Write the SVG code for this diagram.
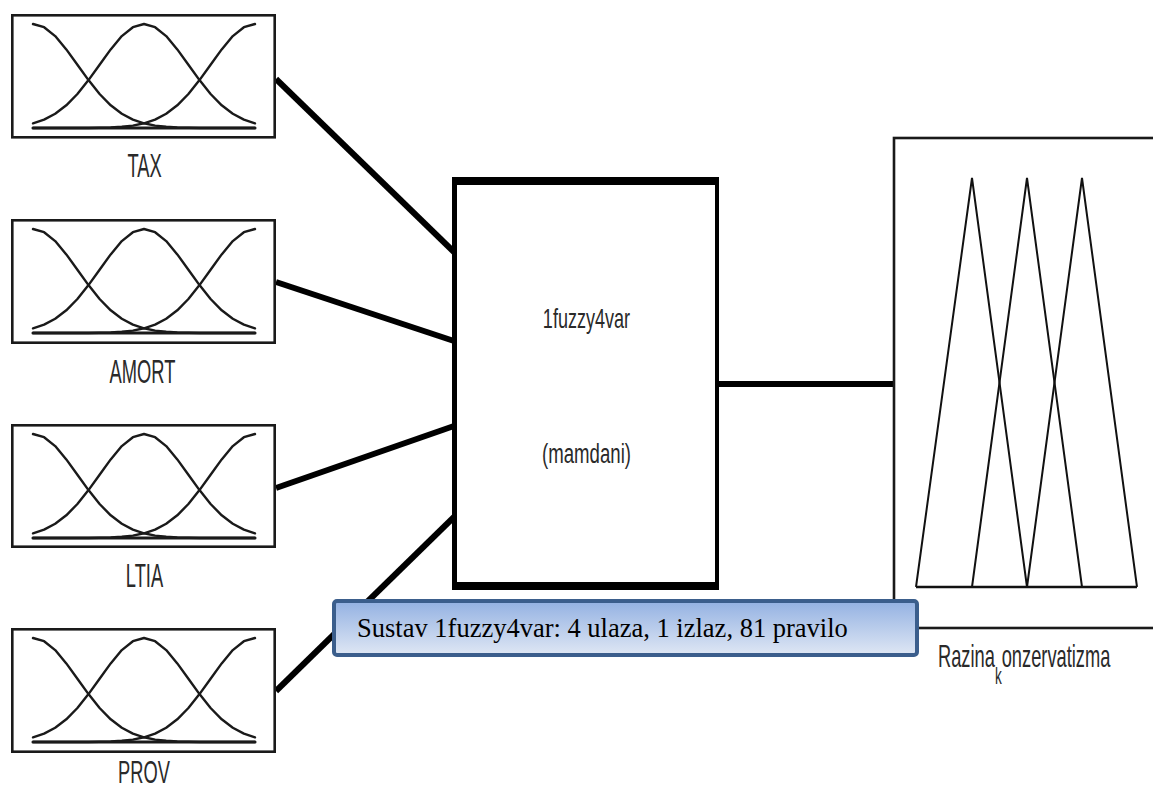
<svg xmlns="http://www.w3.org/2000/svg" xmlns:xlink="http://www.w3.org/1999/xlink" width="1153" height="791" viewBox="0 0 1153 791">
  <style>
    .box { fill: #ffffff; stroke: #1a1a1a; stroke-width: 2.6; }
    .mf { fill: none; stroke: #1a1a1a; stroke-width: 2.4; stroke-linejoin: round; stroke-linecap: round; }
    .base { fill: none; stroke: #1a1a1a; stroke-width: 3; stroke-linecap: round; }
    .lbl { font-family: "Liberation Sans", Arial, sans-serif; font-size: 33px; fill: #2a2a2a; text-anchor: middle; }
    .ctr { font-family: "Liberation Sans", Arial, sans-serif; font-size: 28px; fill: #2a2a2a; text-anchor: middle; }
    .out { font-family: "Liberation Sans", Arial, sans-serif; font-size: 31px; fill: #2a2a2a; }
    .conn { stroke: #000000; stroke-width: 6; fill: none; }
    .tri { fill: none; stroke: #111111; stroke-width: 2; stroke-linejoin: miter; }
    .cap { font-family: "Liberation Serif", "Times New Roman", serif; font-size: 26.5px; fill: #000000; }
  </style>
  <defs>
    <g id="mfset">
      <polyline class="mf" points="22,10 33.1,13.2 44.2,22.1 55.3,35.4 66.4,50.7 77.5,66.1 88.6,80 99.7,91.3 110.8,99.7 121.9,105.6 133,109.3 144.1,111.6 155.2,112.8 166.3,113.5 177.4,113.8 188.5,114 244,114"/>
      <polyline class="mf" points="22,109.3 33.1,105.6 44.2,99.7 55.3,91.3 66.4,80 77.5,66.1 88.6,50.7 99.7,35.4 110.8,22.1 121.9,13.2 133,10 144.1,13.2 155.2,22.1 166.3,35.4 177.4,50.7 188.5,66.1 199.6,80 210.7,91.3 221.8,99.7 232.9,105.6 244,109.3"/>
      <polyline class="mf" points="244,10 232.9,13.2 221.8,22.1 210.7,35.4 199.6,50.7 188.5,66.1 177.4,80 166.3,91.3 155.2,99.7 144.1,105.6 133,109.3 121.9,111.6 110.8,112.8 99.7,113.5 88.6,113.8 77.5,114 22,114"/>
      <line class="base" x1="22" y1="114" x2="244" y2="114"/>
    </g>
    <linearGradient id="capgrad" x1="0" y1="0" x2="0" y2="1">
      <stop offset="0" stop-color="#93b1e2"/>
      <stop offset="1" stop-color="#dfe7f4"/>
    </linearGradient>
  </defs>

  <g id="connectors">
    <line class="conn" x1="276" y1="79" x2="454" y2="252"/>
    <line class="conn" x1="276" y1="282" x2="454" y2="341"/>
    <line class="conn" x1="276" y1="488" x2="454" y2="426"/>
    <line class="conn" x1="276" y1="691" x2="454" y2="517"/>
    <line class="conn" x1="719" y1="384" x2="894" y2="384"/>
  </g>

  <g id="node-tax">
    <g transform="translate(11,14)">
      <rect class="box" x="1.3" y="1.3" width="262.4" height="122"/>
      <use xlink:href="#mfset"/>
    </g>
    <text class="lbl" transform="translate(144.5,177) scale(0.555,1)">TAX</text>
  </g>

  <g id="node-amort">
    <g transform="translate(11,219)">
      <rect class="box" x="1.3" y="1.3" width="262.4" height="122.4"/>
      <use xlink:href="#mfset"/>
    </g>
    <text class="lbl" transform="translate(142.5,383) scale(0.555,1)">AMORT</text>
  </g>

  <g id="node-ltia">
    <g transform="translate(11,424)">
      <rect class="box" x="1.3" y="1.3" width="262.4" height="121.4"/>
      <use xlink:href="#mfset"/>
    </g>
    <text class="lbl" transform="translate(144.5,587) scale(0.555,1)">LTIA</text>
  </g>

  <g id="node-prov">
    <g transform="translate(11,628)">
      <rect class="box" x="1.3" y="1.3" width="262.4" height="122.4"/>
      <use xlink:href="#mfset"/>
    </g>
    <text class="lbl" style="font-size:31px" transform="translate(144,783) scale(0.59,1)">PROV</text>
  </g>

  <g id="node-fis">
    <rect x="452" y="177" width="267" height="413" fill="#000000"/>
    <rect x="457" y="185" width="258" height="397" fill="#ffffff"/>
    <text class="ctr" transform="translate(586.5,328) scale(0.645,1)">1fuzzy4var</text>
    <text class="ctr" transform="translate(586.5,463) scale(0.665,1)">(mamdani)</text>
  </g>

  <g id="node-output">
    <rect x="894" y="138" width="300" height="490" fill="#ffffff" stroke="#1a1a1a" stroke-width="2.6"/>
    <polyline class="tri" points="916,587 972,178 1027,587"/>
    <polyline class="tri" points="972,587 1027,178 1082,587"/>
    <polyline class="tri" points="1027,587 1082,178 1137,587"/>
    <line x1="916" y1="587" x2="1137" y2="587" stroke="#111111" stroke-width="2.6"/>
    <text class="out" transform="translate(938,667) scale(0.59,1)">Razina<tspan font-size="23" dy="17">k</tspan><tspan dy="-17">onzervatizma</tspan></text>
  </g>

  <g id="node-caption">
    <rect x="334" y="601" width="583" height="54" rx="3" ry="3" fill="url(#capgrad)" stroke="#3b5e8c" stroke-width="4"/>
    <text class="cap" x="357" y="637">Sustav 1fuzzy4var: 4 ulaza, 1 izlaz, 81 pravilo</text>
  </g>
</svg>
